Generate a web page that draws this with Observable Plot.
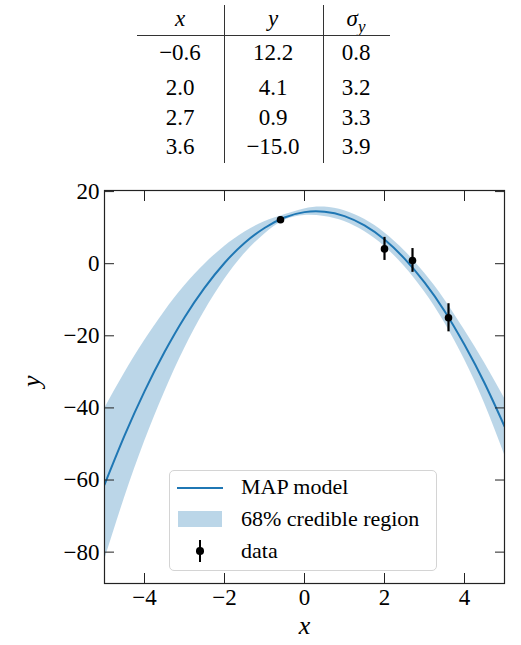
<!DOCTYPE html>
<html><head><meta charset="utf-8">
<script src="https://cdn.jsdelivr.net/npm/d3@7"></script>
<script src="https://cdn.jsdelivr.net/npm/@observablehq/plot@0.6"></script>
<style>
body{margin:0;background:#fff;}
#wrap{position:relative;width:521px;height:645px;overflow:hidden;font-family:"Liberation Serif","DejaVu Serif","Times New Roman",serif;color:#000;background:#fff;}
.abs{position:absolute;}
.cell{position:absolute;text-align:center;font-size:23px;white-space:nowrap;height:30px;line-height:30px;}
.it{font-style:italic;}
.leg{position:absolute;font-size:22px;white-space:nowrap;height:30px;line-height:30px;}
#plot{position:absolute;left:0;top:180px;}
</style></head><body><div id="wrap"><div id="plot"></div></div>
<script>
// measured data
const dataX = [-0.6, 2.0, 2.7, 3.6];
const dataY = [12.2, 4.1, 0.9, -15.0];
const dataSigma = [0.8, 3.2, 3.3, 3.9];

// MAP model and 68% band
const curveX   = [-5, -4.5, -4, -3.5, -3, -2.5, -2, -1.5, -1, -0.5, 0, 0.5, 1, 1.5, 2, 2.5, 3, 3.5, 4, 4.5, 5];
const mapY     = [-61.3, -47.7, -35.4, -24.5, -14.9, -6.7, 0.2, 5.75, 9.9, 12.8, 14.3, 14.4, 13.2, 10.6, 6.7, 1.4, -5.2, -13.1, -22.5, -33.1, -45.1];
const bandHigh = [-40.3, -30.4, -21.4, -13.3, -6.2, -0.2, 4.8, 8.75, 11.6, 13.55, 15.2, 15.7, 14.7, 12.3, 8.6, 3.6, -2.6, -9.9, -18.4, -27.5, -37.3];
const bandLow  = [-82.3, -65.0, -49.4, -35.7, -23.6, -13.2, -4.4, 2.75, 8.2, 12.05, 13.4, 13.1, 11.7, 8.9, 4.8, -0.8, -7.8, -16.3, -26.6, -38.7, -52.9];

const xTicks = [-4, -2, 0, 2, 4];
const yTicks = [-80, -60, -40, -20, 0, 20];
const xDomain = [-5, 5];
const yDomain = [-88.7, 20.3];

const tableHeader = ["x", "y", "σ"];
const legendLabels = ["MAP model", "68% credible region", "data"];

const serif = '"Liberation Serif","DejaVu Serif","Times New Roman",serif';
const wrap = document.getElementById("wrap");
const fmt = v => v.toFixed(1).replace("-", "\u2212");

// ---- table ----
const colCenters = [180, 273, 356];
const rowCenters = [53, 88, 118, 147];
function addCell(html, cx, cy, w) {
  const d = document.createElement("div");
  d.className = "cell";
  d.style.left = (cx - w / 2) + "px";
  d.style.width = w + "px";
  d.style.top = (cy - 15) + "px";
  d.innerHTML = html;
  wrap.appendChild(d);
}
addCell(`<span class="it">${tableHeader[0]}</span>`, colCenters[0], 19, 80);
addCell(`<span class="it">${tableHeader[1]}</span>`, colCenters[1], 19, 80);
addCell(`<span class="it">${tableHeader[2]}</span><sub class="it" style="font-size:17px;line-height:0">y</sub>`, colCenters[2], 19, 80);
dataX.forEach((v, i) => {
  addCell(fmt(v), colCenters[0], rowCenters[i], 90);
  addCell(fmt(dataY[i]), colCenters[1], rowCenters[i], 96);
  addCell(fmt(dataSigma[i]), colCenters[2], rowCenters[i], 66);
});
function addRule(l, t, w, h) {
  const d = document.createElement("div");
  d.className = "abs";
  Object.assign(d.style, {left: l + "px", top: t + "px", width: w + "px", height: h + "px", background: "#333"});
  wrap.appendChild(d);
}
addRule(137, 34.5, 253, 1.3);
addRule(224, 5, 1.3, 158);
addRule(323, 5, 1.3, 158);

// ---- plot ----
const curve = curveX.map((x, i) => ({x, y: mapY[i], lo: bandLow[i], hi: bandHigh[i]}));
const pts = dataX.map((x, i) => ({x, y: dataY[i], s: dataSigma[i]}));
const blue = "#1f77b4";

const chart = Plot.plot({
  width: 521, height: 465,
  marginLeft: 104, marginRight: 17, marginTop: 10, marginBottom: 62,
  x: {domain: xDomain},
  y: {domain: yDomain},
  style: {fontFamily: serif, fontSize: "23px", color: "black", background: "transparent", overflow: "visible"},
  marks: [
    Plot.areaY(curve, {x: "x", y1: "lo", y2: "hi", fill: blue, fillOpacity: 0.3, curve: "natural", clip: true}),
    Plot.line(curve, {x: "x", y: "y", stroke: blue, strokeWidth: 2, curve: "natural", clip: true}),
    Plot.ruleX(pts, {x: "x", y1: d => d.y - d.s, y2: d => d.y + d.s, stroke: "black", strokeWidth: 2.2}),
    Plot.dot(pts, {x: "x", y: "y", r: 3.8, fill: "black"}),
    Plot.frame({stroke: "#222", strokeWidth: 1.2}),
    Plot.axisX(xTicks, {anchor: "bottom", tickSize: -10, tickPadding: 15, label: null, stroke: "#222", fill: "black"}),
    Plot.axisX(xTicks, {anchor: "top", tickSize: -10, tickFormat: () => "", label: null, stroke: "#222"}),
    Plot.axisY(yTicks, {anchor: "left", tickSize: -10, tickPadding: 15, label: null, stroke: "#222", fill: "black"}),
    Plot.axisY(yTicks, {anchor: "right", tickSize: -10, tickFormat: () => "", label: null, stroke: "#222"}),
    Plot.text(["x"], {frameAnchor: "bottom", dy: 50, text: d => d, fontStyle: "italic", fontSize: 26, fill: "black"}),
    Plot.text(["y"], {frameAnchor: "left", dx: -73, rotate: -90, text: d => d, fontStyle: "italic", fontSize: 26, fill: "black"})
  ]
});
document.getElementById("plot").appendChild(chart);

// ---- legend ----
const box = document.createElement("div");
box.className = "abs";
Object.assign(box.style, {left: "169px", top: "470px", width: "268px", height: "101px", border: "1px solid #d4d4d4", borderRadius: "5px", background: "rgba(255,255,255,0.8)", boxSizing: "border-box"});
wrap.appendChild(box);
function addSw(l, t, w, h, bg, extra) {
  const d = document.createElement("div");
  d.className = "abs";
  Object.assign(d.style, {left: l + "px", top: t + "px", width: w + "px", height: h + "px", background: bg}, extra || {});
  wrap.appendChild(d);
}
addSw(177, 486.5, 46, 2, blue);
addSw(178, 511, 44, 16, "rgba(31,119,180,0.3)");
addSw(199, 540, 2.2, 22, "black");
addSw(196.2, 547.2, 7.6, 7.6, "black", {borderRadius: "50%"});
const legY = [487, 519, 551];
legendLabels.forEach((t, i) => {
  const d = document.createElement("div");
  d.className = "leg";
  d.style.left = "241px";
  d.style.top = (legY[i] - 15) + "px";
  d.textContent = t;
  wrap.appendChild(d);
});
</script></body></html>
